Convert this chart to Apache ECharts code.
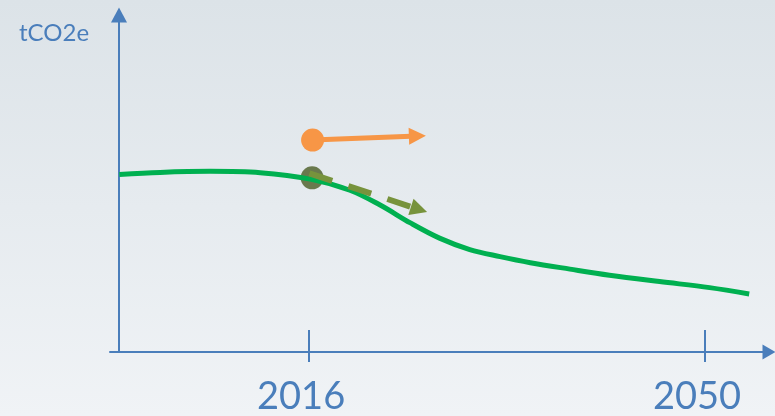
<!DOCTYPE html>
<html>
<head>
<meta charset="utf-8">
<script src="https://cdn.jsdelivr.net/npm/echarts@6/dist/echarts.min.js"></script>
<style>
  html, body { margin: 0; padding: 0; }
  #main { width: 775px; height: 416px; }
</style>
</head>
<body>
<div id="main"></div>
<script>
// emissions path (year, tCO2e in relative units)
const years = [1999.7, 2003.2, 2007.5, 2011.8, 2016.1, 2019.5, 2022.1, 2024.7, 2027.2,
  2029.8, 2032.4, 2035.0, 2038.4, 2041.8, 2046.1, 2050.4, 2053.8];
const emissions = [52.7, 53.3, 53.6, 53.2, 51.3, 48.0, 43.6, 38.3, 33.8,
  30.4, 28.3, 26.5, 24.6, 22.8, 20.9, 19.1, 17.2];

// orange trend (start dot -> arrow)
const orangeX = [2016.3, 2025.3];
const orangeY = [62.9, 64.1];

// dashed trend (start dot -> arrow)
const dashedDot = [2016.26, 51.7];
const dashedX = [2016.03, 2025.44];
const dashedY = [53.0, 42.3];

const tickYears = [2016, 2050];
const xMin = 1998.9, xMax = 2055.5;

const AXIS = "#4a7ebb";
const FONT = "Lato";

class TrendChart {
  constructor(el) {
    this.el = el;
    this.chart = echarts.init(this.el);
    this.setup();
  }

  setup() {
    const pairs = (xs, ys) => xs.map((x, i) => [x, ys[i]]);
    const green = pairs(years, emissions);
    const orange = pairs(orangeX, orangeY);
    const dashed = pairs(dashedX, dashedY);

    this.chart.setOption({
      backgroundColor: {
        type: "linear", x: 0, y: 0, x2: 0, y2: 1,
        colorStops: [{ offset: 0, color: "#dce3e8" }, { offset: 1, color: "#f0f3f6" }]
      },
      animation: false,
      title: {
        text: "tCO2e",
        left: 14, top: 16,
        textStyle: { color: AXIS, fontFamily: FONT, fontSize: 24, fontWeight: "normal" }
      },
      grid: { left: 110, right: 6, top: 15, bottom: 64 },
      xAxis: [
        {
          type: "value", min: xMin, max: xMax,
          splitLine: { show: false },
          axisLine: {
            onZero: false,
            lineStyle: { color: AXIS, width: 2 },
            symbol: ["none", "triangle"], symbolSize: [15, 13]
          },
          axisTick: { show: true, length: 10, customValues: tickYears, lineStyle: { color: AXIS, width: 2 } },
          axisLabel: {
            customValues: tickYears,
            color: AXIS, fontFamily: FONT, fontSize: 38,
            margin: 26, padding: [0, 16, 0, 0],
            formatter: v => String(Math.round(v))
          }
        },
        {
          type: "value", min: xMin, max: xMax, position: "bottom",
          splitLine: { show: false },
          axisLine: { show: false, onZero: false },
          axisTick: { show: true, inside: true, length: 22, customValues: tickYears, lineStyle: { color: AXIS, width: 2 } },
          axisLabel: { show: false }
        }
      ],
      yAxis: {
        type: "value", min: 0, max: 100, offset: -9,
        splitLine: { show: false },
        axisLine: {
          show: true, onZero: false,
          lineStyle: { color: AXIS, width: 2 },
          symbol: ["none", "triangle"], symbolSize: [16, 15]
        },
        axisTick: { show: false },
        axisLabel: { show: false }
      },
      series: [
        {
          type: "scatter", z: 2,
          symbol: "circle", symbolSize: 23,
          itemStyle: { color: "#4a5c24" },
          data: [dashedDot]
        },
        {
          type: "line", z: 3,
          smooth: 0.35, showSymbol: false,
          lineStyle: { color: "#00b050", width: 5 },
          data: green
        },
        {
          type: "line", z: 4,
          lineStyle: { color: "#77933c", width: 6, type: [24, 17] },
          itemStyle: { color: "#77933c" },
          data: [
            { value: dashed[0], symbol: "none" },
            { value: dashed[1], symbol: "triangle", symbolSize: [17, 17], symbolRotate: -108 }
          ]
        },
        {
          type: "line", z: 5,
          lineStyle: { color: "#f79646", width: 5 },
          itemStyle: { color: "#f79646" },
          data: [
            { value: orange[0], symbol: "circle", symbolSize: 23 },
            { value: orange[1], symbol: "triangle", symbolSize: [17, 17], symbolRotate: -88 }
          ]
        }
      ]
    });
  }
}

document.addEventListener("DOMContentLoaded", function() {
  const container = document.querySelector("#main");
  const chart = new TrendChart(container);
});
</script>
</body>
</html>
